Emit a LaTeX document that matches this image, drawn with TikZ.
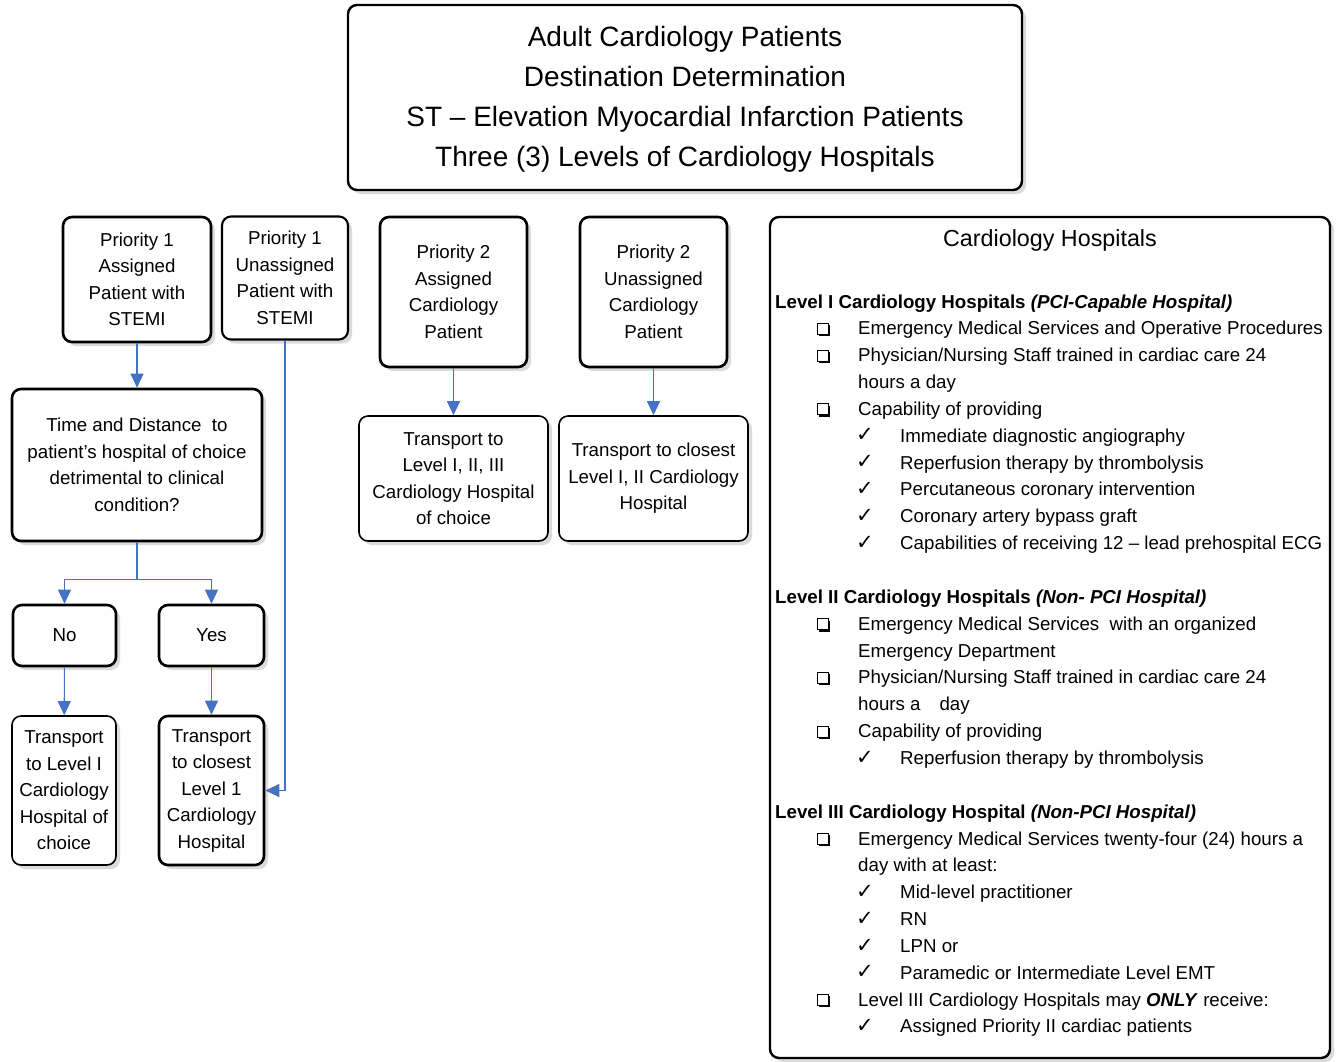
\documentclass[tikz,border=0pt]{standalone}
\usepackage{fontspec}
\setmainfont{Liberation Sans}
\newfontfamily\symfont{DejaVu Sans}
\usepackage{tikz}
\usetikzlibrary{arrows.meta,shadows}

\definecolor{arrowblue}{HTML}{4472C4}
\definecolor{shadowgray}{gray}{0.86}

\tikzset{
  box/.style={draw, rounded corners=9pt, line width=2.6pt, fill=white, align=center, inner sep=0pt,
    font=\fontsize{18.7}{26.5}\selectfont,
    drop shadow={shadow xshift=4pt, shadow yshift=-4pt, fill=shadowgray, opacity=1}},
  thinbox/.style={box, line width=1.6pt},
  arr/.style={draw=arrowblue, line width=1.1pt, -{Triangle[length=14pt,width=13pt]}},
  chkbox/.style={draw, line width=1pt, minimum size=11pt, inner sep=0pt, fill=white,
    drop shadow={shadow xshift=1.8pt, shadow yshift=-1.8pt, fill=black, opacity=1}},
  chkmark/.style={font=\symfont\fontsize{21}{21}\selectfont, inner sep=0pt},
  listtext/.style={anchor=base west, inner sep=0pt, font=\fontsize{18.7}{22}\selectfont}
}

\begin{document}
\begin{tikzpicture}[x=1pt,y=-1pt]
\useasboundingbox (0,0) rectangle (1337,1061);

% header
\node[box, line width=2.4pt, minimum width=674pt, minimum height=185pt, font=\fontsize{28}{40}\selectfont] (title) at (685,97.5)
  {\rule{0pt}{24pt}Adult Cardiology Patients\\Destination Determination\\ST – Elevation Myocardial Infarction Patients\\Three (3) Levels of Cardiology Hospitals};

% priority 1
\node[box, minimum width=148pt, minimum height=125pt] (p1a) at (137,279.5) {Priority 1\\Assigned\\Patient with\\STEMI};
\node[box, line width=2.1pt, minimum width=126pt, minimum height=123pt] (p1u) at (285,278) {Priority 1\\Unassigned\\Patient with\\STEMI};
\node[box, minimum width=250pt, minimum height=152pt] (dist) at (137,465) {Time and Distance\ \ to\\patient’s hospital of choice\\detrimental to clinical\\condition?};
\node[box, minimum width=103pt, minimum height=61pt] (no) at (64.5,635.5) {No};
\node[box, minimum width=105pt, minimum height=61pt] (yes) at (211.5,635.5) {Yes};
\node[thinbox, minimum width=104pt, minimum height=149pt] (choice1) at (64,790.5) {Transport\\to Level I\\Cardiology\\Hospital of\\choice};
\node[box, minimum width=105pt, minimum height=149pt] (closest1) at (211.5,790.5) {Transport\\to closest\\Level 1\\Cardiology\\Hospital};

% priority 2
\node[box, minimum width=147pt, minimum height=150pt] (p2a) at (453.5,292) {Priority 2\\Assigned\\Cardiology\\Patient};
\node[box, minimum width=147pt, minimum height=150pt] (p2u) at (653.5,292) {Priority 2\\Unassigned\\Cardiology\\Patient};
\node[thinbox, minimum width=189pt, minimum height=125pt] (choice2) at (453.5,478.5) {Transport to\\Level I, II, III\\Cardiology Hospital\\of choice};
\node[thinbox, minimum width=189pt, minimum height=125pt] (closest2) at (653.5,478.5) {Transport to closest\\Level I, II Cardiology\\Hospital};

\draw[arr] (p1a) -- (dist);
\draw[arr] (dist.south) -- ++(0,37) -| (no.north);
\draw[arr] (dist.south) -- ++(0,37) -| (yes.north);
\draw[arr] (no) -- (choice1);
\draw[arr] (yes) -- (closest1);
\draw[arr] (p1u.south) |- (closest1.east);
\draw[arr] (p2a) -- (choice2);
\draw[arr] (p2u) -- (closest2);

% hospital levels
\node[box, line width=2.4pt, minimum width=560pt, minimum height=841pt] (levels) at (1050,637.5) {};
\node[font=\fontsize{23.3}{28}\selectfont, inner sep=0pt] (levtitle) at (1050,240) {Cardiology Hospitals};

\foreach \i/\txt in {0/{Level I Cardiology Hospitals \textit{(PCI-Capable Hospital)}},
                     11/{Level II Cardiology Hospitals \textit{(Non- PCI Hospital)}},
                     19/{Level III Cardiology Hospital \textit{(Non-PCI Hospital)}}}
{
  \node[listtext] (head\i) at (775,{308+26.85*\i}) {\textbf{\txt}};
}

\foreach \i/\txt in {1/{Emergency Medical Services and Operative Procedures},
                     2/{Physician/Nursing Staff trained in cardiac care 24},
                     4/{Capability of providing},
                     12/{Emergency Medical Services\ \ with an organized},
                     14/{Physician/Nursing Staff trained in cardiac care 24},
                     16/{Capability of providing},
                     20/{Emergency Medical Services twenty-four (24) hours a},
                     26/{Level III Cardiology Hospitals may \textbf{\textit{ONLY}} receive:}}
{
  \node[chkbox] (cb\i) at (823,{302+26.85*\i}) {};
  \node[listtext] (item\i) at (858,{308+26.85*\i}) {\txt};
}

\foreach \i/\txt in {3/{hours a day},
                     13/{Emergency Department},
                     15/{hours a\hspace{19pt}day},
                     21/{day with at least:}}
{
  \node[listtext] (cont\i) at (858,{308+26.85*\i}) {\txt};
}

\foreach \i/\txt in {5/{Immediate diagnostic angiography},
                     6/{Reperfusion therapy by thrombolysis},
                     7/{Percutaneous coronary intervention},
                     8/{Coronary artery bypass graft},
                     9/{Capabilities of receiving 12 – lead prehospital ECG},
                     17/{Reperfusion therapy by thrombolysis},
                     22/{Mid-level practitioner},
                     23/{RN},
                     24/{LPN or},
                     25/{Paramedic or Intermediate Level EMT},
                     27/{Assigned Priority II cardiac patients}}
{
  \node[chkmark] (ck\i) at (865,{301+26.85*\i}) {✓};
  \node[listtext] (sub\i) at (900,{308+26.85*\i}) {\txt};
}

\end{tikzpicture}
\end{document}
